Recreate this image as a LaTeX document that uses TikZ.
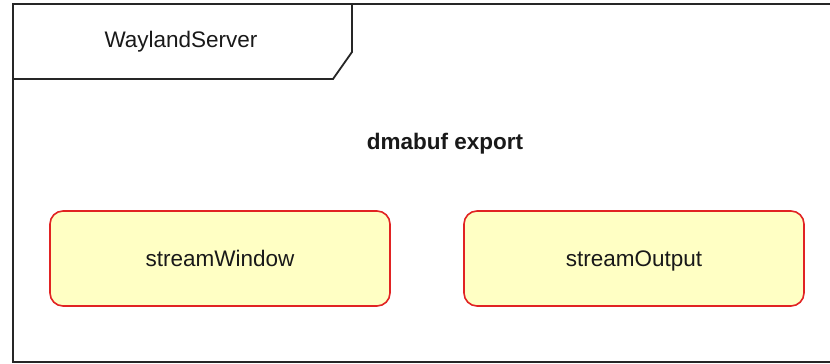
\documentclass[tikz,border=0pt]{standalone}
\usepackage{fontspec}
\setmainfont{Liberation Sans}
\definecolor{boxfill}{RGB}{255,255,196}
\definecolor{boxline}{RGB}{225,35,35}
\definecolor{txt}{RGB}{25,25,25}
\begin{document}
\begin{tikzpicture}[x=1pt,y=-1pt,
  frameline/.style={draw=black!85,line width=1.8pt},
  statebox/.style={draw=boxline,fill=boxfill,line width=1.6pt,rounded corners=13pt,
    minimum width=340pt,minimum height=95pt,inner sep=0pt,text height=16pt,text depth=0pt,
    font=\fontsize{22.5}{25}\selectfont,text=txt},
  lbl/.style={font=\fontsize{22.5}{25}\selectfont,text=txt,inner sep=0pt,text height=16pt,text depth=0pt}]
\useasboundingbox (0,0) rectangle (830,364);
\clip (0,0) rectangle (830,364);
\fill[white] (0,0) rectangle (830,364);
% outer frame (right edge outside the picture)
\draw[frameline] (840,4) -- (13,4) -- (13,362) -- (840,362);
% tab
\draw[frameline] (352,4) -- (352,52) -- (333,79) -- (13,79);
\node[lbl] (ws) at (181,39.5) {WaylandServer};
\node[lbl,font=\fontsize{22.5}{25}\selectfont\bfseries] (title) at (445,141) {dmabuf export};
\node[statebox] (sw) at (220,258.5) {streamWindow};
\node[statebox] (so) at (634,258.5) {streamOutput};
\end{tikzpicture}
\end{document}
